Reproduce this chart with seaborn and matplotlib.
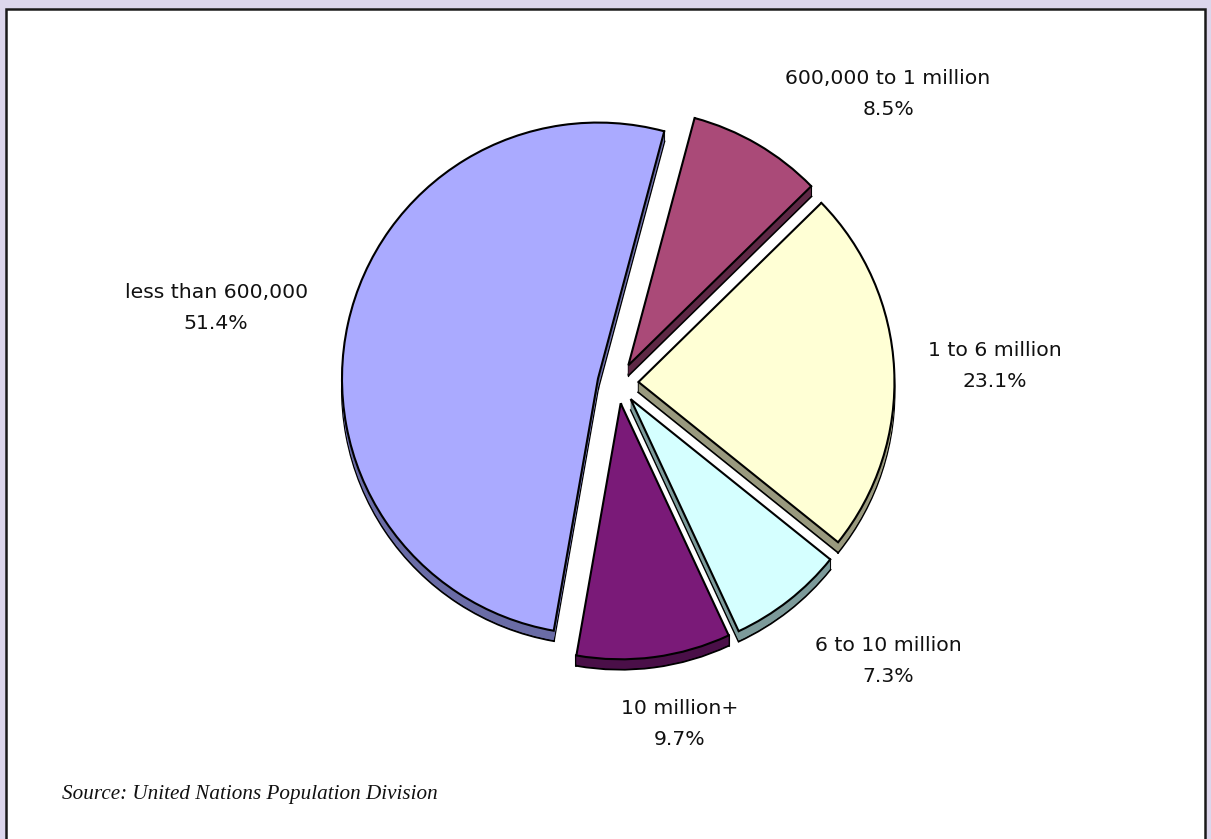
import numpy as np
import pandas as pd
import seaborn as sns
import matplotlib
matplotlib.use("Agg")
import matplotlib.pyplot as plt
from matplotlib.patches import Rectangle

# ---- data (clockwise from the top) ----
categories = ["600,000 to 1 million", "1 to 6 million", "6 to 10 million",
              "10 million+", "less than 600,000"]
shares = [8.5, 23.1, 7.3, 9.7, 51.4]
source_note = "Source: United Nations Population Division"

# ---- styles ----
top_colors = ["#AA4A78", "#FFFFD5", "#D5FFFF", "#7A1A78", "#AAAAFF"]
side_colors = ["#5E2845", "#99997E", "#7C9A9A", "#4A0F48", "#6A6CA6"]
label_pos = [(1.055, 1.129), (1.473, 0.066), (1.055, -1.086),
             (0.242, -1.332), (-1.570, 0.293)]

sns.set_theme(style="white")
plt.rcParams["font.family"] = ["DejaVu Sans"]

df = pd.DataFrame({"category": categories, "share": shares})

W, H = 1211, 839
fig = plt.figure(figsize=(W / 100, H / 100), dpi=100)
fig.patch.set_facecolor("#DCD6EC")
fig.patches.append(Rectangle((6 / W, -0.01), (1205 - 6) / W, 1 - 9 / H + 0.01,
                             transform=fig.transFigure, facecolor="white",
                             edgecolor="#1A1A1A", linewidth=1.8, zorder=-10))

ax = fig.add_axes([0, 0, 1, 1])
ax.set_zorder(5)
ax.set_facecolor("none")
ax.patch.set_alpha(0)
ax.set_axis_off()

R = 256.0
cx, cy = 618.0, 383.0

explode = [0.08] * len(shares)
depth = 0.04
nlayers = 12
start = 75
edge_lw = 1.5

pie_kw = dict(explode=explode, startangle=start, counterclock=False,
              radius=1.0, normalize=True)

# side (extrusion) layers, drawn from the bottom up
for k in range(nlayers, 0, -1):
    off = depth * k / nlayers
    lw = edge_lw if k == nlayers else 0
    ax.pie(df["share"], colors=side_colors, center=(0, -off),
           wedgeprops=dict(edgecolor="black", linewidth=lw), **pie_kw)

# top faces
wedges, _ = ax.pie(df["share"], colors=top_colors, center=(0, 0),
                   wedgeprops=dict(edgecolor="black", linewidth=edge_lw), **pie_kw)

# vertical edges at wedge corners
for w in wedges:
    x0, y0 = w.center
    for th in (w.theta1, w.theta2):
        t = np.deg2rad(th)
        px, py = x0 + w.r * np.cos(t), y0 + w.r * np.sin(t)
        ax.plot([px, px], [py, py - depth], color="black", lw=edge_lw, zorder=0.5)
    ax.plot([x0, x0], [y0, y0 - depth], color="black", lw=1.0, zorder=0.5)

for cat, val, (lx, ly) in zip(df["category"], df["share"], label_pos):
    ax.text(lx, ly, f"{cat}\n{val:.1f}%", ha="center", va="center",
            multialignment="center", fontsize=14.7, linespacing=1.85,
            color="#111111")

fig.text(62 / W, 1 - 795 / H, source_note, ha="left", va="center",
         fontsize=15.2, style="italic", family=["Liberation Serif"],
         color="#111111", zorder=10)

ax.set_aspect("equal")
ax.set_xlim(-cx / R, (W - cx) / R)
ax.set_ylim(-(H - cy) / R, cy / R)
fig.savefig("out.png", dpi=100, facecolor=fig.get_facecolor())
